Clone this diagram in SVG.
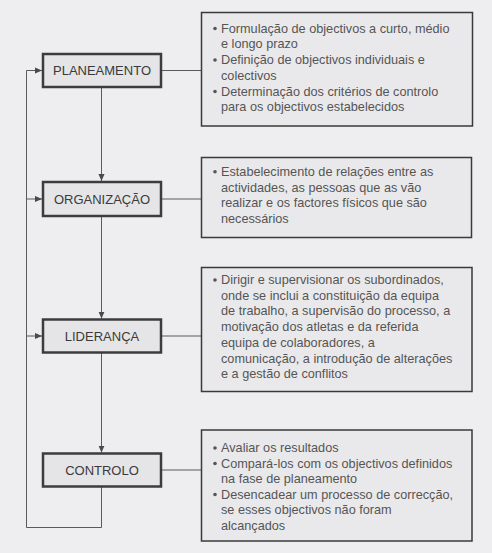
<svg xmlns="http://www.w3.org/2000/svg" width="492" height="553" viewBox="0 0 492 553">
<style>
.bg{fill:#eeeef0}
.node rect{fill:#e5e5e7;stroke:#3c3c3c;stroke-width:2.5}
.node text{font-family:"Liberation Sans",Arial,sans-serif;font-size:13px;fill:#3a3a3a;text-anchor:middle}
.info rect{fill:#e9e9eb;stroke:#3a3a3a;stroke-width:1.5}
.info text{font-family:"Liberation Sans",Arial,sans-serif;font-size:12.7px;fill:#555}
.info circle{fill:#555}
.conn line,.conn polyline{stroke:#5a5a5a;stroke-width:1;fill:none}
.arr{marker-end:url(#ah)}
</style>
<defs>
<marker id="ah" viewBox="0 0 8 8" refX="8" refY="4" markerWidth="7" markerHeight="7" markerUnits="userSpaceOnUse" orient="auto">
<path d="M0,0.5 L8,4 L0,7.5 Z" fill="#4a4a4a"/>
</marker>
</defs>
<rect class="bg" x="0" y="0" width="492" height="553"/>
<g id="connectors" class="conn">
<line class="arr" x1="101.5" y1="88" x2="101.5" y2="181"/>
<line class="arr" x1="101.5" y1="216" x2="101.5" y2="318.5"/>
<line class="arr" x1="101.5" y1="352.5" x2="101.5" y2="452.5"/>
<polyline points="101.5,487 101.5,527.5 26.5,527.5 26.5,70.5"/>
<line class="arr" x1="26.5" y1="70.5" x2="42" y2="70.5"/>
<line class="arr" x1="26.5" y1="199" x2="42" y2="199"/>
<line class="arr" x1="26.5" y1="336" x2="42" y2="336"/>
<line x1="161" y1="70.5" x2="201.5" y2="70.5"/>
<line x1="161" y1="199" x2="201.5" y2="199"/>
<line x1="161" y1="336" x2="201.5" y2="336"/>
<line x1="161" y1="470" x2="201.5" y2="470"/>
</g>
<g id="planeamento" class="node">
<rect x="43" y="54" width="118" height="33"/>
<text x="102" y="75">PLANEAMENTO</text>
</g>
<g id="organizacao" class="node">
<rect x="43" y="182" width="118" height="34"/>
<text x="102" y="203.5">ORGANIZAÇÃO</text>
</g>
<g id="lideranca" class="node">
<rect x="43" y="319.5" width="118" height="33"/>
<text x="102" y="340.5">LIDERANÇA</text>
</g>
<g id="controlo" class="node">
<rect x="43" y="453.5" width="118" height="33"/>
<text x="102" y="474.5">CONTROLO</text>
</g>
<g id="info-planeamento" class="info">
<rect x="201.5" y="12.5" width="271" height="113.5"/>
<circle cx="215" cy="28.5" r="1.8"/>
<circle cx="215" cy="60" r="1.8"/>
<circle cx="215" cy="91.5" r="1.8"/>
<text x="221" y="32.5">Formulação de objectivos a curto, médio</text>
<text x="221" y="48.3">e longo prazo</text>
<text x="221" y="64">Definição de objectivos individuais e</text>
<text x="221" y="79.8">colectivos</text>
<text x="221" y="95.6">Determinação dos critérios de controlo</text>
<text x="221" y="111.4">para os objectivos estabelecidos</text>
</g>
<g id="info-organizacao" class="info">
<rect x="201.5" y="157.5" width="270" height="80"/>
<circle cx="215" cy="171.7" r="1.8"/>
<text x="221" y="175.7">Estabelecimento de relações entre as</text>
<text x="221" y="191.5">actividades, as pessoas que as vão</text>
<text x="221" y="207.3">realizar e os factores físicos que são</text>
<text x="221" y="223.1">necessários</text>
</g>
<g id="info-lideranca" class="info">
<rect x="201.5" y="267.5" width="270.5" height="124"/>
<circle cx="215" cy="280" r="1.8"/>
<text x="221" y="284">Dirigir e supervisionar os subordinados,</text>
<text x="221" y="299.7">onde se inclui a constituição da equipa</text>
<text x="221" y="315.4">de trabalho, a supervisão do processo, a</text>
<text x="221" y="331.1">motivação dos atletas e da referida</text>
<text x="221" y="346.8">equipa de colaboradores, a</text>
<text x="221" y="362.5">comunicação, a introdução de alterações</text>
<text x="221" y="378.2">e a gestão de conflitos</text>
</g>
<g id="info-controlo" class="info">
<rect x="201.5" y="430" width="270.5" height="111"/>
<circle cx="215" cy="448" r="1.8"/>
<circle cx="215" cy="463.5" r="1.8"/>
<circle cx="215" cy="494.5" r="1.8"/>
<text x="221" y="452">Avaliar os resultados</text>
<text x="221" y="467.5">Compará-los com os objectivos definidos</text>
<text x="221" y="483">na fase de planeamento</text>
<text x="221" y="498.5">Desencadear um processo de correcção,</text>
<text x="221" y="514">se esses objectivos não foram</text>
<text x="221" y="529.5">alcançados</text>
</g>
</svg>
